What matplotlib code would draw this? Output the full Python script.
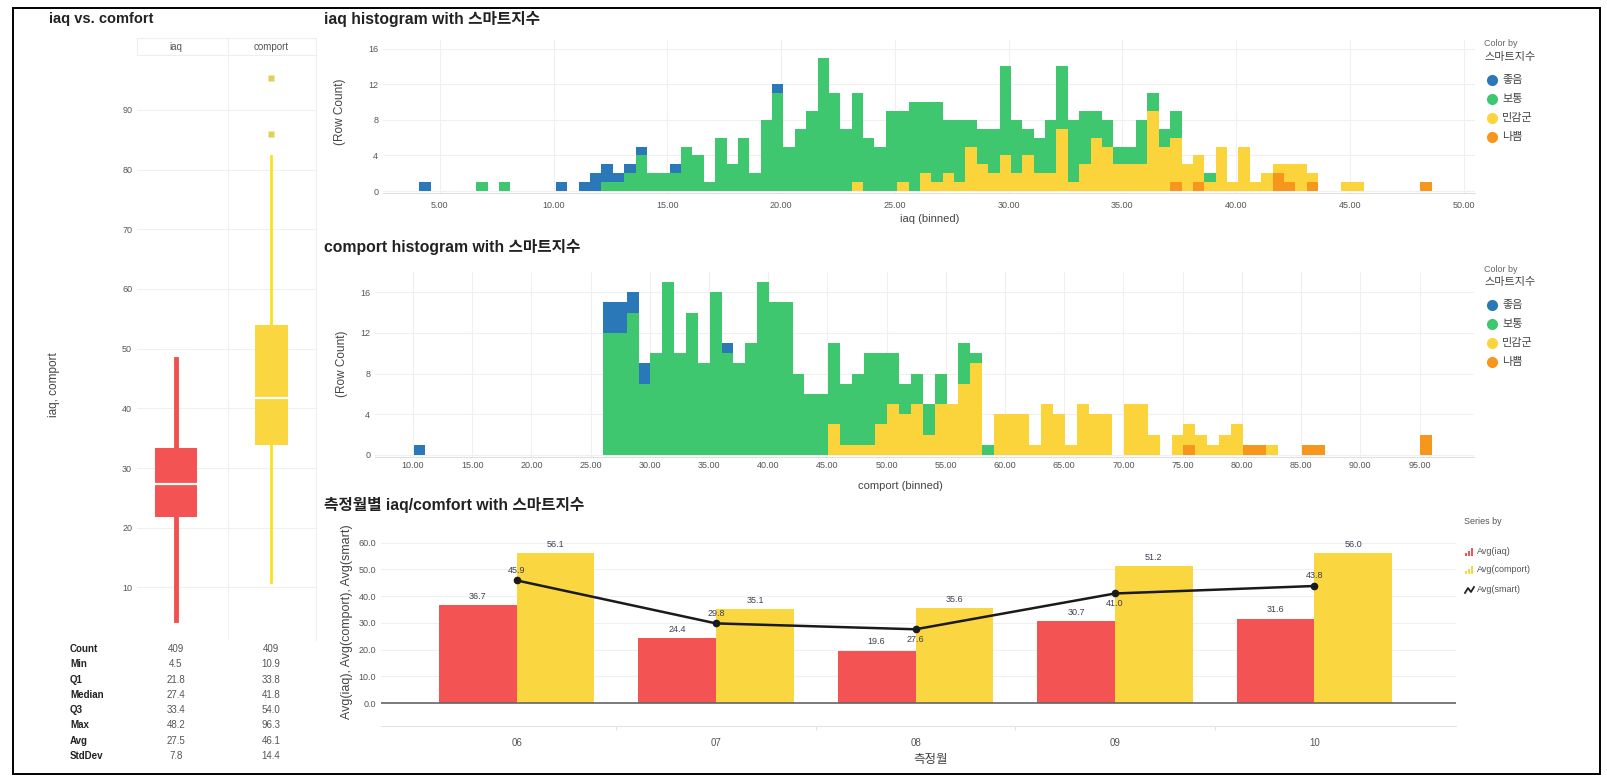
import numpy as np
import matplotlib
matplotlib.use("Agg")
import matplotlib.pyplot as plt
from matplotlib.patches import Rectangle

plt.rcParams['font.family'] = ['Liberation Sans', 'Noto Sans CJK KR', 'DejaVu Sans']

W, H = 1608, 777

# ---------------- data ----------------
# 스마트지수 categories (legend order) and colours
CATS = ['좋음', '보통', '민감군', '나쁨']
CAT_COLORS = ['#2a78b8', '#3ec76f', '#fbd43c', '#f7961c']

# box plot summary (iaq, comport)
STAT_NAMES = ['Count', 'Min', 'Q1', 'Median', 'Q3', 'Max', 'Avg', 'StdDev']
IAQ_STATS = [409, 4.5, 21.8, 27.4, 33.4, 48.2, 27.5, 7.8]
COMPORT_STATS = [409, 10.9, 33.8, 41.8, 54.0, 96.3, 46.1, 14.4]
IAQ_WHISKER_HI = 48.2
COMPORT_WHISKER_HI = 82.2
COMPORT_OUTLIERS = [85.9, 95.3]

# iaq histogram: bins of 0.5 starting at 4.1
IAQ_BIN_START = 4.1
IAQ_BIN_WIDTH = 0.5
iaq_good = [1, 0, 0, 0, 0, 0, 0, 0, 0, 0,
            0, 0, 1, 0, 1, 2, 2, 1, 1, 1,
            0, 0, 1, 0, 0, 0, 0, 0, 0, 0,
            0, 1, 0, 0, 0, 0, 0, 0, 0, 0,
            0, 0, 0, 0, 0, 0, 0, 0, 0, 0,
            0, 0, 0, 0, 0, 0, 0, 0, 0, 0,
            0, 0, 0, 0, 0, 0, 0, 0, 0, 0,
            0, 0, 0, 0, 0, 0, 0, 0, 0, 0,
            0, 0, 0, 0, 0, 0, 0, 0, 0]
iaq_normal = [0, 0, 0, 0, 0, 1, 0, 1, 0, 0,
              0, 0, 0, 0, 0, 0, 1, 1, 2, 4,
              2, 2, 2, 5, 4, 1, 6, 3, 6, 2,
              8, 11, 5, 7, 9, 15, 11, 7, 10, 6,
              5, 9, 8, 10, 8, 9, 6, 7, 3, 4,
              5, 10, 6, 3, 4, 6, 7, 7, 6, 3,
              3, 2, 2, 5, 2, 2, 3, 0, 0, 1,
              0, 0, 0, 0, 0, 0, 0, 0, 0, 0,
              0, 0, 0, 0, 0, 0, 0, 0, 0]
iaq_sensitive = [0, 0, 0, 0, 0, 0, 0, 0, 0, 0,
                 0, 0, 0, 0, 0, 0, 0, 0, 0, 0,
                 0, 0, 0, 0, 0, 0, 0, 0, 0, 0,
                 0, 0, 0, 0, 0, 0, 0, 0, 1, 0,
                 0, 0, 1, 0, 2, 1, 2, 1, 5, 3,
                 2, 4, 2, 4, 2, 2, 7, 1, 3, 6,
                 5, 3, 3, 3, 9, 5, 5, 3, 3, 1,
                 5, 1, 5, 1, 2, 1, 2, 3, 1, 0,
                 0, 1, 1, 0, 0, 0, 0, 0, 0]
iaq_bad = [0, 0, 0, 0, 0, 0, 0, 0, 0, 0,
           0, 0, 0, 0, 0, 0, 0, 0, 0, 0,
           0, 0, 0, 0, 0, 0, 0, 0, 0, 0,
           0, 0, 0, 0, 0, 0, 0, 0, 0, 0,
           0, 0, 0, 0, 0, 0, 0, 0, 0, 0,
           0, 0, 0, 0, 0, 0, 0, 0, 0, 0,
           0, 0, 0, 0, 0, 0, 1, 0, 1, 0,
           0, 0, 0, 0, 0, 2, 1, 0, 1, 0,
           0, 0, 0, 0, 0, 0, 0, 0, 1]
IAQ_TICKS = [5, 10, 15, 20, 25, 30, 35, 40, 45, 50]

# comport histogram: bins of 1.0 starting at 10.06
COMP_BIN_START = 10.06
COMP_BIN_WIDTH = 1.0
comp_good = [1, 0, 0, 0, 0, 0, 0, 0, 0, 0,
             0, 0, 0, 0, 0, 0, 3, 3, 2, 2,
             0, 0, 0, 0, 0, 0, 1, 0, 0, 0,
             0, 0, 0, 0, 0, 0, 0, 0, 0, 0,
             0, 0, 0, 0, 0, 0, 0, 0, 0, 0,
             0, 0, 0, 0, 0, 0, 0, 0, 0, 0,
             0, 0, 0, 0, 0, 0, 0, 0, 0, 0,
             0, 0, 0, 0, 0, 0, 0, 0, 0, 0,
             0, 0, 0, 0, 0, 0]
comp_normal = [0, 0, 0, 0, 0, 0, 0, 0, 0, 0,
               0, 0, 0, 0, 0, 0, 12, 12, 14, 7,
               10, 17, 10, 14, 9, 16, 10, 9, 11, 17,
               15, 15, 8, 6, 6, 8, 6, 7, 9, 7,
               5, 3, 3, 3, 3, 0, 4, 1, 1, 0,
               0, 0, 0, 0, 0, 0, 0, 0, 0, 0,
               0, 0, 0, 0, 0, 0, 0, 0, 0, 0,
               0, 0, 0, 0, 0, 0, 0, 0, 0, 0,
               0, 0, 0, 0, 0, 0]
comp_sensitive = [0, 0, 0, 0, 0, 0, 0, 0, 0, 0,
                  0, 0, 0, 0, 0, 0, 0, 0, 0, 0,
                  0, 0, 0, 0, 0, 0, 0, 0, 0, 0,
                  0, 0, 0, 0, 0, 3, 1, 1, 1, 3,
                  5, 4, 5, 2, 5, 5, 7, 9, 0, 4,
                  4, 4, 1, 5, 4, 1, 5, 4, 4, 0,
                  5, 5, 2, 0, 2, 2, 2, 1, 2, 3,
                  0, 0, 1, 0, 0, 0, 0, 0, 0, 0,
                  0, 0, 0, 0, 0, 0]
comp_bad = [0, 0, 0, 0, 0, 0, 0, 0, 0, 0,
            0, 0, 0, 0, 0, 0, 0, 0, 0, 0,
            0, 0, 0, 0, 0, 0, 0, 0, 0, 0,
            0, 0, 0, 0, 0, 0, 0, 0, 0, 0,
            0, 0, 0, 0, 0, 0, 0, 0, 0, 0,
            0, 0, 0, 0, 0, 0, 0, 0, 0, 0,
            0, 0, 0, 0, 0, 1, 0, 0, 0, 0,
            1, 1, 0, 0, 0, 1, 1, 0, 0, 0,
            0, 0, 0, 0, 0, 2]
COMP_TICKS = [10, 15, 20, 25, 30, 35, 40, 45, 50, 55, 60, 65, 70, 75, 80, 85, 90, 95]

# monthly averages
MONTHS = ['06', '07', '08', '09', '10']
avg_iaq = [36.7, 24.4, 19.6, 30.7, 31.6]
avg_comport = [56.1, 35.1, 35.6, 51.2, 56.0]
avg_smart = [45.9, 29.8, 27.6, 41.0, 43.8]
SMART_LABEL_SIDE = ['above', 'above', 'below', 'below', 'above']

RED = '#f45353'
YELLOW = '#fad640'
GRID = '#f0f0f0'
TXT = '#555555'

fig = plt.figure(figsize=(W / 100, H / 100), dpi=100)


def px_axes(l, t, r, b):
    return fig.add_axes([l / W, 1 - b / H, (r - l) / W, (b - t) / H])


def clean(ax):
    for s in ax.spines.values():
        s.set_visible(False)
    ax.tick_params(length=0, labelsize=6.5, labelcolor=TXT)


# ---------------- box plot ----------------
axb = px_axes(137, 55, 316, 640)
clean(axb)
stats = [
    dict(label='iaq', whislo=IAQ_STATS[1], q1=IAQ_STATS[2], med=IAQ_STATS[3],
         q3=IAQ_STATS[4], whishi=IAQ_WHISKER_HI, fliers=[]),
    dict(label='comport', whislo=COMPORT_STATS[1], q1=COMPORT_STATS[2], med=COMPORT_STATS[3],
         q3=COMPORT_STATS[4], whishi=COMPORT_WHISKER_HI, fliers=COMPORT_OUTLIERS),
]
bp = axb.bxp(stats, positions=[0, 1], widths=[0.44, 0.35], patch_artist=True,
             showcaps=False, zorder=3)
for i, (fc, wc, wl) in enumerate([(RED, '#f05050', 3.5), (YELLOW, '#f8e21c', 2.0)]):
    bp['boxes'][i].set(facecolor=fc, edgecolor='none')
    bp['medians'][i].set(color='white', linewidth=1.6)
    for wk in bp['whiskers'][2 * i:2 * i + 2]:
        wk.set(color=wc, linewidth=wl, zorder=2)
bp['fliers'][1].set(marker='s', markersize=4, markerfacecolor='#e2cf55',
                    markeredgecolor='none')
axb.set_xlim(-0.41, 1.47)
axb.set_ylim(1.2, 99.2)
axb.set_yticks([10, 20, 30, 40, 50, 60, 70, 80, 90])
axb.set_xticks([])
axb.grid(axis='y', color=GRID, linewidth=0.8)
axb.axvline(0.547, color=GRID, linewidth=0.8)
axb.set_axisbelow(True)


# ---------------- histograms ----------------
def stacked_hist(ax, start, width, layers):
    edges = start + width * np.arange(len(layers[0]))
    bottom = np.zeros(len(layers[0]))
    # stack from 나쁨 (bottom) up to 좋음 (top)
    for counts, color in zip(layers[::-1], CAT_COLORS[::-1]):
        counts = np.array(counts)
        ax.bar(edges, counts, width=width, bottom=bottom, align='edge',
               color=color, linewidth=0, zorder=3)
        bottom = bottom + counts


axh1 = px_axes(383, 40, 1475, 193)
clean(axh1)
stacked_hist(axh1, IAQ_BIN_START, IAQ_BIN_WIDTH, [iaq_good, iaq_normal, iaq_sensitive, iaq_bad])
axh1.set_xlim(2.5, 50.5)
axh1.set_ylim(-0.22, 16.97)
axh1.set_xticks(IAQ_TICKS)
axh1.set_xticklabels([f'{t:.2f}' for t in IAQ_TICKS])
axh1.set_yticks([0, 4, 8, 12, 16])
axh1.grid(color=GRID, linewidth=0.8)
axh1.set_axisbelow(True)
axh1.spines['bottom'].set_visible(True)
axh1.spines['bottom'].set_color('#e0e0e0')
axh1.tick_params(axis='x', pad=6)

axh2 = px_axes(375, 272, 1474, 457)
clean(axh2)
stacked_hist(axh2, COMP_BIN_START, COMP_BIN_WIDTH, [comp_good, comp_normal, comp_sensitive, comp_bad])
axh2.set_xlim(6.8, 99.6)
axh2.set_ylim(-0.2, 18.0)
axh2.set_xticks(COMP_TICKS)
axh2.set_xticklabels([f'{t:.2f}' for t in COMP_TICKS])
axh2.set_yticks([0, 4, 8, 12, 16])
axh2.grid(color=GRID, linewidth=0.8)
axh2.set_axisbelow(True)
axh2.spines['bottom'].set_visible(True)
axh2.spines['bottom'].set_color('#e0e0e0')
axh2.tick_params(axis='x', pad=3)

# ---------------- monthly bar chart ----------------
axm = px_axes(381, 520, 1456, 726)
clean(axm)
x = np.arange(len(MONTHS))
bw = 0.39
axm.bar(x - bw / 2, avg_iaq, width=bw, color=RED, linewidth=0, zorder=3)
axm.bar(x + bw / 2, avg_comport, width=bw, color=YELLOW, linewidth=0, zorder=3)
for xi, v in zip(x, avg_iaq):
    axm.text(xi - bw / 2, v + 1.6, f'{v:.1f}', ha='center', va='bottom', fontsize=6.5, color='#404050', zorder=5)
for xi, v in zip(x, avg_comport):
    axm.text(xi + bw / 2, v + 1.6, f'{v:.1f}', ha='center', va='bottom', fontsize=6.5, color='#404050', zorder=5)
axm.plot(x, avg_smart, color='#1a1a1a', linewidth=1.8, marker='o', markersize=4.5, zorder=4)
for xi, v, side in zip(x, avg_smart, SMART_LABEL_SIDE):
    if side == 'above':
        axm.text(xi, v + 2.2, f'{v:.1f}', ha='center', va='bottom', fontsize=6.5, color='#404050', zorder=5)
    else:
        axm.text(xi, v - 2.2, f'{v:.1f}', ha='center', va='top', fontsize=6.5, color='#404050', zorder=5)
axm.axhline(0, color='#666666', linewidth=1.2, zorder=4)
axm.set_xlim(-0.68, 4.71)
axm.set_ylim(-8.6, 68.5)
axm.set_yticks([0, 10, 20, 30, 40, 50, 60])
axm.set_yticklabels([f'{t:.1f}' for t in [0, 10, 20, 30, 40, 50, 60]])
axm.set_xticks(x)
axm.set_xticklabels(MONTHS, fontsize=7)
axm.set_xticks(x[:-1] + 0.5, minor=True)
axm.tick_params(axis='x', which='minor', length=3, color='#dddddd')
axm.tick_params(axis='x', pad=9)
axm.grid(axis='y', color=GRID, linewidth=0.8)
axm.set_axisbelow(True)
axm.spines['bottom'].set_visible(True)
axm.spines['bottom'].set_color('#e3e3e3')

# ---------------- overlay: titles, labels, legends, frame ----------------
ov = fig.add_axes([0, 0, 1, 1], zorder=10)
ov.set_xlim(0, W)
ov.set_ylim(H, 0)
ov.axis('off')
ov.patch.set_alpha(0)

ov.add_patch(Rectangle((13, 8), 1587, 766, fill=False, edgecolor='black', linewidth=1.4))

title_kw = dict(fontweight='bold', color='#222222', va='center', ha='left')
ov.text(49, 19, 'iaq vs. comfort', fontsize=10.5, **title_kw)
ov.text(324, 19, 'iaq histogram with 스마트지수', fontsize=11.3, **title_kw)
ov.text(324, 247, 'comport histogram with 스마트지수', fontsize=11.3, **title_kw)
ov.text(324, 505, '측정월별 iaq/comfort with 스마트지수', fontsize=11.3, **title_kw)

# box plot header and frame
LINE = '#eeeeee'
for xx in (137, 228, 316):
    ov.plot([xx, xx], [38, 55], color=LINE, linewidth=0.8)
ov.plot([137, 316], [38, 38], color=LINE, linewidth=0.8)
ov.plot([137, 316], [55, 55], color=LINE, linewidth=0.8)
ov.plot([316, 316], [55, 640], color=LINE, linewidth=0.8)
ov.text(176, 47, 'iaq', fontsize=7, color=TXT, ha='center', va='center')
ov.text(271, 47, 'comport', fontsize=7, color=TXT, ha='center', va='center')
ov.text(54, 385, 'iaq, comport', fontsize=8.5, color='#444444', rotation=90, ha='center', va='center')

# stats table
for i, name in enumerate(STAT_NAMES):
    yy = 649 + 15.3 * i
    ov.text(70, yy, name, fontsize=7, fontweight='bold', color='#222222', ha='left', va='center')
    fmt = (lambda v: f'{v:d}') if name == 'Count' else (lambda v: f'{v:.1f}')
    ov.text(176, yy, fmt(IAQ_STATS[i]), fontsize=7, color=TXT, ha='center', va='center')
    ov.text(271, yy, fmt(COMPORT_STATS[i]), fontsize=7, color=TXT, ha='center', va='center')

# axis labels
ov.text(340, 112, '(Row Count)', fontsize=8.5, color='#444444', rotation=90, ha='center', va='center')
ov.text(930, 219, 'iaq (binned)', fontsize=8, color='#444444', ha='center', va='center')
ov.text(342, 364, '(Row Count)', fontsize=8.5, color='#444444', rotation=90, ha='center', va='center')
ov.text(900, 486, 'comport (binned)', fontsize=8, color='#444444', ha='center', va='center')
ov.text(347, 622, 'Avg(iaq), Avg(comport), Avg(smart)', fontsize=9, color='#444444',
        rotation=90, ha='center', va='center')
ov.text(931, 760, '측정월', fontsize=9, color='#444444', ha='center', va='center')

# colour legends
for top in (44, 269):
    ov.text(1484, top, 'Color by', fontsize=6.5, color='#666666', ha='left', va='center')
    ov.text(1484, top + 13, '스마트지수', fontsize=8, color='#444444', ha='left', va='center')
    for j, (cat, col) in enumerate(zip(CATS, CAT_COLORS)):
        yy = top + 36 + 18.9 * j
        ov.plot(1492, yy, 'o', markersize=8, color=col, markeredgecolor='none')
        ov.text(1502, yy, cat, fontsize=8, color='#444444', ha='left', va='center')

# series legend of the bar chart
ov.text(1464, 521, 'Series by', fontsize=6.5, color='#555555', ha='left', va='center')
for j, (lab, col) in enumerate([('Avg(iaq)', RED), ('Avg(comport)', YELLOW)]):
    yy = 552 + 17.5 * j
    for k, hgt in enumerate([3, 5, 8]):
        ov.add_patch(Rectangle((1465 + 3 * k, yy + 4 - hgt), 2.4, hgt, color=col, linewidth=0))
    ov.text(1477, yy, lab, fontsize=6.5, color='#555555', ha='left', va='center')
ov.plot([1465, 1468, 1471, 1474], [593, 588, 592, 587], color='#222222', linewidth=1.3)
ov.text(1477, 590, 'Avg(smart)', fontsize=6.5, color='#555555', ha='left', va='center')

fig.savefig('out.png', dpi=100)
